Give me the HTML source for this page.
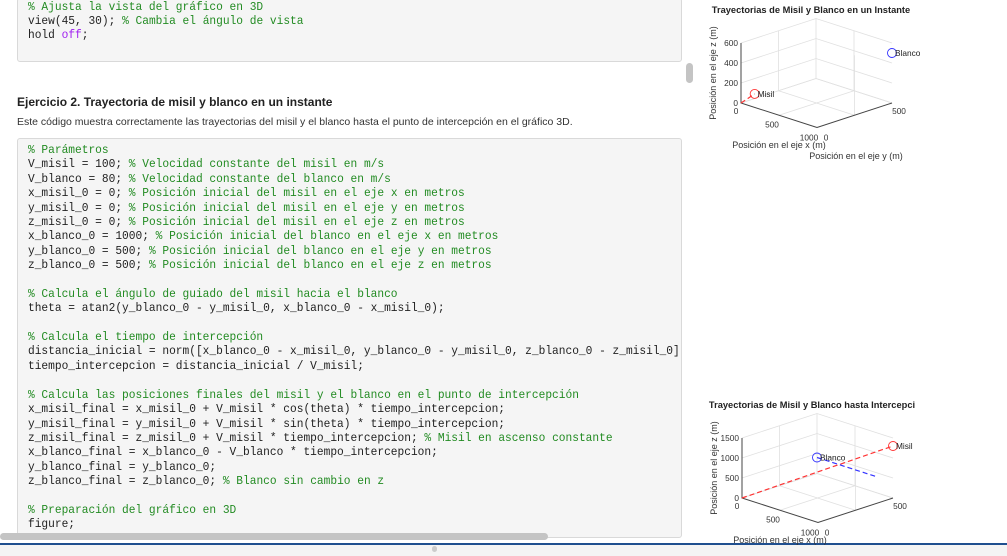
<!DOCTYPE html>
<html><head><meta charset="utf-8">
<style>
body{margin:0;width:1007px;height:556px;overflow:hidden;background:#fff;font-family:"Liberation Sans",sans-serif;position:relative}
.code{position:absolute;left:17px;width:665px;background:#f5f5f5;border:1px solid #d9d9d9;border-radius:3px;box-sizing:border-box}
.ln{position:absolute;left:28px;font-family:"Liberation Mono",monospace;font-size:12px;white-space:pre;color:#222;line-height:14px;transform:scaleX(0.933);transform-origin:0 0}
.c{color:#228b22}.k{color:#a020f0}
svg text{font-family:"Liberation Sans",sans-serif}
</style></head><body>
<div class="code" style="top:-2px;height:64px"></div>
<div class="code" style="top:138px;height:400px"></div>
<div id="lines"></div>
<div style="position:absolute;left:686px;top:63px;width:7px;height:20px;border-radius:4px;background:#c4c4c4"></div>
<div style="position:absolute;left:17px;top:95px;font-size:12px;font-weight:bold;color:#222">Ejercicio 2. Trayectoria de misil y blanco en un instante</div>
<div style="position:absolute;left:17px;top:116px;font-size:10.5px;color:#333">Este código muestra correctamente las trayectorias del misil y el blanco hasta el punto de intercepción en el gráfico 3D.</div>
<div style="position:absolute;left:0;top:533px;width:548px;height:7px;border-radius:4px;background:#c4c4c4"></div>
<div style="position:absolute;left:0;top:543px;width:1007px;height:2px;background:#1f4f8f"></div>
<div style="position:absolute;left:0;top:545px;width:1007px;height:11px;background:#f4f4f4"></div>
<div style="position:absolute;left:432px;top:546px;width:5px;height:6px;border-radius:3px;background:#ccc"></div>
<svg id="charts" width="1007" height="556" style="position:absolute;left:0;top:0"></svg>
<script>
const L=[
[7,'<span class="c">% Ajusta la vista del gráfico en 3D</span>'],
[21,'view(45, 30); <span class="c">% Cambia el ángulo de vista</span>'],
[35,'hold <span class="k">off</span>;'],
[150,'<span class="c">% Parámetros</span>'],
[164,'V_misil = 100; <span class="c">% Velocidad constante del misil en m/s</span>'],
[179,'V_blanco = 80; <span class="c">% Velocidad constante del blanco en m/s</span>'],
[193,'x_misil_0 = 0; <span class="c">% Posición inicial del misil en el eje x en metros</span>'],
[208,'y_misil_0 = 0; <span class="c">% Posición inicial del misil en el eje y en metros</span>'],
[222,'z_misil_0 = 0; <span class="c">% Posición inicial del misil en el eje z en metros</span>'],
[236,'x_blanco_0 = 1000; <span class="c">% Posición inicial del blanco en el eje x en metros</span>'],
[251,'y_blanco_0 = 500; <span class="c">% Posición inicial del blanco en el eje y en metros</span>'],
[265,'z_blanco_0 = 500; <span class="c">% Posición inicial del blanco en el eje z en metros</span>'],
[294,'<span class="c">% Calcula el ángulo de guiado del misil hacia el blanco</span>'],
[308,'theta = atan2(y_blanco_0 - y_misil_0, x_blanco_0 - x_misil_0);'],
[337,'<span class="c">% Calcula el tiempo de intercepción</span>'],
[351,'distancia_inicial = norm([x_blanco_0 - x_misil_0, y_blanco_0 - y_misil_0, z_blanco_0 - z_misil_0]'],
[366,'tiempo_intercepcion = distancia_inicial / V_misil;'],
[395,'<span class="c">% Calcula las posiciones finales del misil y el blanco en el punto de intercepción</span>'],
[409,'x_misil_final = x_misil_0 + V_misil * cos(theta) * tiempo_intercepcion;'],
[424,'y_misil_final = y_misil_0 + V_misil * sin(theta) * tiempo_intercepcion;'],
[438,'z_misil_final = z_misil_0 + V_misil * tiempo_intercepcion; <span class="c">% Misil en ascenso constante</span>'],
[452,'x_blanco_final = x_blanco_0 - V_blanco * tiempo_intercepcion;'],
[467,'y_blanco_final = y_blanco_0;'],
[481,'z_blanco_final = z_blanco_0; <span class="c">% Blanco sin cambio en z</span>'],
[510,'<span class="c">% Preparación del gráfico en 3D</span>'],
[524,'figure;']];
const box=document.getElementById('lines');
L.forEach(([y,h],i)=>{const d=document.createElement('div');d.className='ln';d.style.top=(y-7)+'px';d.innerHTML=h;


box.appendChild(d);});
</script>
<script>
// Chart data
const c1Range=[1000,500,600];
const c1ZTicks=[0,200,400,600];
const c1MisilLine=[[0,0,0],[91,45,91]];
const c1Misil=[91,45,91];
const c1Blanco=[1000,500,500];
const c2Range=[1000,500,1500];
const c2ZTicks=[0,500,1000,1500];
const c2MisilLine=[[0,0,0],[1000,500,1300]];
const c2BlancoLine=[[0,500,400],[800,500,400]];
const c2Misil=[1000,500,1300];
const c2Blanco=[0,500,400];
const NS='http://www.w3.org/2000/svg';
const svg=document.getElementById('charts');
function el(t,a,txt){const e=document.createElementNS(NS,t);for(const k in a)e.setAttribute(k,a[k]);if(txt!==undefined)e.textContent=txt;svg.appendChild(e);return e;}
function chart(o){
 const P=(x,y,z)=>[o.ox+x/o.r[0]*76+y/o.r[1]*75, o.oy+x/o.r[0]*24.5-y/o.r[1]*24.5-z/o.r[2]*60];
 const g='#e0e0e0';
 o.zt.forEach(z=>{const a=P(0,0,z),b=P(0,o.r[1],z),c=P(o.r[0],o.r[1],z);
  let l=el('polyline',{points:[a,b,c].join(' '),fill:'none',stroke:g,'stroke-width':0.8});
  });
 [[0,o.r[1]],[o.r[0]/2,o.r[1]],[o.r[0],o.r[1]/2],[0,o.r[1]/2]].forEach(([x,y])=>{const a=P(x,y,0),b=P(x,y,o.r[2]);
  let l=el('line',{x1:a[0],y1:a[1],x2:b[0],y2:b[1],stroke:g,'stroke-width':0.8});
  });
 [[P(0,0,0),P(0,o.r[1],0)],[P(0,o.r[1],0),P(o.r[0],o.r[1],0)],[P(o.r[0]/2,0,0),P(o.r[0]/2,o.r[1],0)],[P(0,o.r[1]/2,0),P(o.r[0],o.r[1]/2,0)]].forEach(([a,b])=>{
  let l=el('line',{x1:a[0],y1:a[1],x2:b[0],y2:b[1],stroke:g,'stroke-width':0.8});
  });
 const O=P(0,0,0),X=P(o.r[0],0,0),Y=P(o.r[0],o.r[1],0),Z=P(0,0,o.r[2]);
 let ax=el('polyline',{points:[Z,O,X,Y].join(' '),fill:'none',stroke:'#444','stroke-width':1});
 
 o.zt.forEach(z=>{const p=P(0,0,z);let t=el('text',{x:p[0]-3,y:p[1]+3,'font-size':8.3,'text-anchor':'end',fill:'#333'},z);
  });
 [[0,P(0,0,0),-5,11],[o.r[0]/2,P(o.r[0]/2,0,0),-7,12],[o.r[0],P(o.r[0],0,0),-8,13]].forEach(([v,p,dx,dy])=>{
  let t=el('text',{x:p[0]+dx,y:p[1]+dy,'font-size':8.3,'text-anchor':'middle',fill:'#333'},v);
  });
 [[0,P(o.r[0],0,0),9,13],[o.r[1],P(o.r[0],o.r[1],0),7,11]].forEach(([v,p,dx,dy])=>{
  let t=el('text',{x:p[0]+dx,y:p[1]+dy,'font-size':8.3,'text-anchor':'middle',fill:'#333'},v);
  });
 let t=el('text',{x:o.ox+70,y:o.oy-90,'font-size':9.3,'font-weight':'bold','text-anchor':'middle',fill:'#222'},o.title);
 
 t=el('text',{x:0,y:0,'font-size':9,'text-anchor':'middle',fill:'#333',transform:`translate(${o.ox-25},${o.oy-30}) rotate(-90)`},'Posición en el eje z (m)');
 
 t=el('text',{x:o.ox+38,y:o.oy+45,'font-size':9,'text-anchor':'middle',fill:'#333'},'Posición en el eje x (m)');
 
 if(o.ytitle){t=el('text',{x:o.ox+115,y:o.oy+56,'font-size':9,'text-anchor':'middle',fill:'#333'},'Posición en el eje y (m)');
 }
 o.lines.forEach(([pts,col,nm])=>{const a=P(...pts[0]),b=P(...pts[1]);
  let l=el('line',{x1:a[0],y1:a[1],x2:b[0],y2:b[1],stroke:col,'stroke-width':1.2,'stroke-dasharray':'5,3'});
  });
 o.markers.forEach(([pt,col,lab,nm])=>{const p=P(...pt);
  let c=el('circle',{cx:p[0],cy:p[1],r:4.5,fill:'none',stroke:col,'stroke-width':0.9});
  
  let tt=el('text',{x:p[0]+3,y:p[1]+3,'font-size':8.3,fill:'#222'},lab);
  });
}
chart({ox:741,oy:103,r:c1Range,zt:c1ZTicks,title:'Trayectorias de Misil y Blanco en un Instante',ytitle:true,
 lines:[[c1MisilLine,'#ff3333','misil-trajectory']],
 markers:[[c1Misil,'#ff3333','Misil','misil-marker'],[c1Blanco,'#3333ff','Blanco','blanco-marker']]});
chart({ox:742,oy:498,r:c2Range,zt:c2ZTicks,title:'Trayectorias de Misil y Blanco hasta Intercepci',ytitle:false,
 lines:[[c2MisilLine,'#ff3333','misil-trajectory'],[c2BlancoLine,'#3333ff','blanco-trajectory']],
 markers:[[c2Misil,'#ff3333','Misil','misil-marker'],[c2Blanco,'#3333ff','Blanco','blanco-marker']]});
</script>
</body></html>
